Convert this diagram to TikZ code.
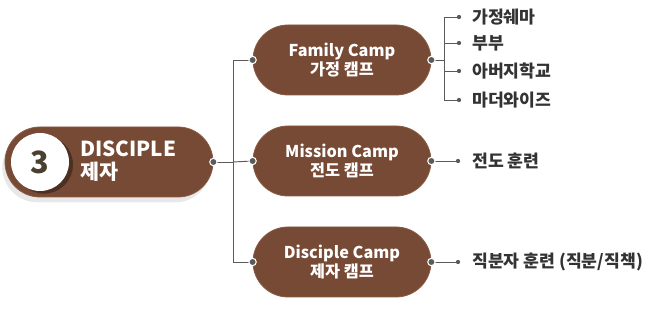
\documentclass[tikz,border=0pt]{standalone}
\usepackage{fontspec}
\setmainfont{Noto Sans CJK KR}
\usetikzlibrary{shapes.misc,shadows,calc}
\definecolor{brn}{HTML}{774A35}
\definecolor{brnedge}{HTML}{8A5A43}
\definecolor{ln}{HTML}{5A5A5A}
\definecolor{txt}{HTML}{333333}
\definecolor{num}{HTML}{4A4030}
\tikzset{
  pill/.style={rounded rectangle, fill=brn, draw=brnedge, line width=0.6pt, minimum width=178*0.75pt, minimum height=70*0.75pt, inner sep=0pt, text=white, font=\fontsize{12.2}{14.5}\selectfont\bfseries, align=center},
  conn/.style={draw=ln, line width=0.7pt},
  dotw/.style={circle, fill=ln, draw=white, line width=0.8pt, inner sep=0pt, minimum size=5.5pt},
  dotp/.style={circle, fill=ln, inner sep=0pt, minimum size=3.2pt},
  item/.style={anchor=west, text=txt, font=\fontsize{12.9}{15}\selectfont\bfseries, inner sep=0pt},
}
\begin{document}
\begin{tikzpicture}[x=0.75pt,y=-0.75pt]
\useasboundingbox (0,0) rectangle (650,316);
% main pill
\node[rounded rectangle, fill=brn, draw=brnedge, line width=0.6pt, minimum width=208*0.75pt, minimum height=70*0.75pt, inner sep=0pt,
  drop shadow={shadow xshift=-2pt, shadow yshift=-4pt, opacity=0.18, fill=gray}] (main) at (109,162) {};
\node[circle, fill=white, minimum size=58*0.75pt, inner sep=0pt,
  drop shadow={shadow xshift=3pt, shadow yshift=-2pt, opacity=0.35, fill=black}] (c3) at (40,162) {};
\node[text=num, font=\fontsize{23}{25}\selectfont\bfseries] (n3) at (40,162) {3};
\node[anchor=west, text=white, align=left, inner sep=0pt, font=\fontsize{15.5}{17}\selectfont\bfseries] (title) at (80,161) {DISCIPLE\\제자};
% camps
\node[pill] (fam) at (342,60) {Family Camp\\가정 캠프};
\node[pill] (mis) at (342,161) {Mission Camp\\전도 캠프};
\node[pill] (dis) at (342,262) {Disciple Camp\\제자 캠프};
% trunk
\coordinate (tr) at (233,162);
\coordinate (trtop) at (233,60);
\coordinate (trbot) at (233,262);
\draw[conn] (main.east) -- (tr);
\draw[conn] (trtop) -- (trbot);
\draw[conn] (trtop) -- (fam.west);
\draw[conn] (tr) -- (mis.west);
\draw[conn] (trbot) -- (dis.west);
\node[dotw] at (main.east) {};
\node[dotw] at (fam.west) {};
\node[dotw] at (mis.west) {};
\node[dotw] at (dis.west) {};
% family items
\coordinate (ft) at (444,60);
\coordinate (ft1) at (444,17);
\coordinate (ft4) at (444,100);
\node[dotp] (d1) at (459,17) {};
\node[dotp] (d2) at (459,43) {};
\node[dotp] (d3) at (459,71) {};
\node[dotp] (d4) at (459,100) {};
\draw[conn] (fam.east) -- (ft);
\draw[conn] (ft1) -- (ft4);
\draw[conn] (ft1) -- (d1);
\draw[conn] (444,43) -- (d2);
\draw[conn] (444,71) -- (d3);
\draw[conn] (ft4) -- (d4);
\node[item] (i1) at (472,17) {가정쉐마};
\node[item] (i2) at (472,43) {부부};
\node[item] (i3) at (472,71) {아버지학교};
\node[item] (i4) at (472,100) {마더와이즈};
\node[dotw] at (fam.east) {};
% mission
\node[dotp] (dm) at (458,161) {};
\draw[conn] (mis.east) -- (dm);
\node[dotw] at (mis.east) {};
\node[item] (im) at (472,161) {전도 훈련};
% disciple
\node[dotp] (dd) at (458,262) {};
\draw[conn] (dis.east) -- (dd);
\node[dotw] at (dis.east) {};
\node[item] (id) at (472,262) {직분자 훈련 (직분/직책)};
\end{tikzpicture}
\end{document}
